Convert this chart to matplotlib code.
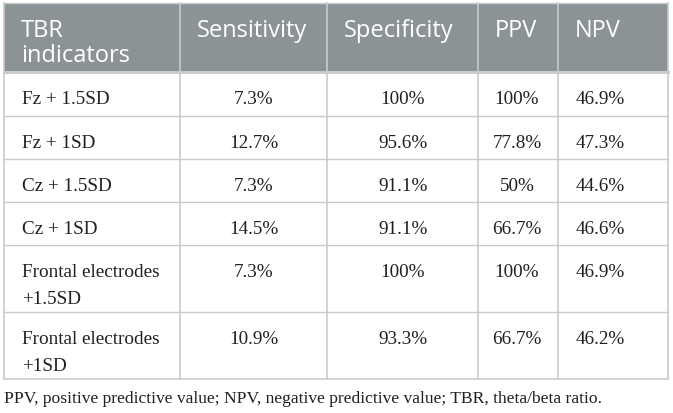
import matplotlib
matplotlib.use("Agg")
import matplotlib.pyplot as plt
from matplotlib.patches import Rectangle

# ---- data ----
headers = [["TBR", "indicators"], ["Sensitivity"], ["Specificity"], ["PPV"], ["NPV"]]
indicators = [["Fz + 1.5SD"], ["Fz + 1SD"], ["Cz + 1.5SD"], ["Cz + 1SD"],
              ["Frontal electrodes", "+1.5SD"], ["Frontal electrodes", "+1SD"]]
sensitivity = [7.3, 12.7, 7.3, 14.5, 7.3, 10.9]
specificity = [100, 95.6, 91.1, 91.1, 100, 93.3]
ppv = [100, 77.8, 50, 66.7, 100, 66.7]
npv = [46.9, 47.3, 44.6, 46.6, 46.9, 46.2]
footnote = "PPV, positive predictive value; NPV, negative predictive value; TBR, theta/beta ratio."

# ---- layout (pixels) ----
W, H = 673, 414
col_edges = [4, 180, 327, 478, 558, 668]
row_edges = [4, 73, 117, 160, 203, 246, 313, 380]
header_bg = "#8b9396"
line_col = "#c9cbcc"
text_col = "#231f20"

fig = plt.figure(figsize=(W / 100, H / 100), dpi=100)
ax = fig.add_axes([0, 0, 1, 1])
ax.set_xlim(0, W)
ax.set_ylim(H, 0)
ax.axis("off")

serif = ["Liberation Serif", "DejaVu Serif"]
sans = ["Open Sans", "DejaVu Sans"]

# header background
ax.add_patch(Rectangle((col_edges[0], row_edges[0]), col_edges[-1] - col_edges[0],
                       row_edges[1] - row_edges[0], facecolor=header_bg, edgecolor="none"))

# header text
for j, lines in enumerate(headers):
    for k, line in enumerate(lines):
        ax.text(col_edges[j] + 17, 36.7 + 25 * k, line, ha="left", va="baseline",
                fontsize=17, color="white", family=sans)

# grid lines
for y in row_edges[2:-1]:
    ax.plot([col_edges[0], col_edges[-1]], [y, y], color=line_col, lw=1.0)
ax.plot([col_edges[0], col_edges[-1]], [row_edges[1], row_edges[1]], color=line_col, lw=2.2)
ax.plot([col_edges[0], col_edges[-1]], [row_edges[-1], row_edges[-1]], color=line_col, lw=1.2)
for x in col_edges:
    ax.plot([x, x], [row_edges[0], row_edges[-1]], color=line_col, lw=1.2)
ax.plot([col_edges[0], col_edges[-1]], [row_edges[0], row_edges[0]], color=line_col, lw=1.0)

# body
cols = [sensitivity, specificity, ppv, npv]
centers = [254, 403, 517, 600]
for i, lab in enumerate(indicators):
    base = row_edges[i + 1] + 31
    for k, line in enumerate(lab):
        ax.text(col_edges[0] + 18, base + 26.6 * k, line, ha="left", va="baseline",
                fontsize=13.75, color=text_col, family=serif)
    for c, vals in enumerate(cols):
        ax.text(centers[c], base, f"{vals[i]:g}%", ha="center", va="baseline",
                fontsize=13.75, color=text_col, family=serif)

ax.text(4, 403, footnote, ha="left", va="baseline", fontsize=12.6, color=text_col, family=serif)

fig.savefig("out.png", dpi=100, facecolor="white")
